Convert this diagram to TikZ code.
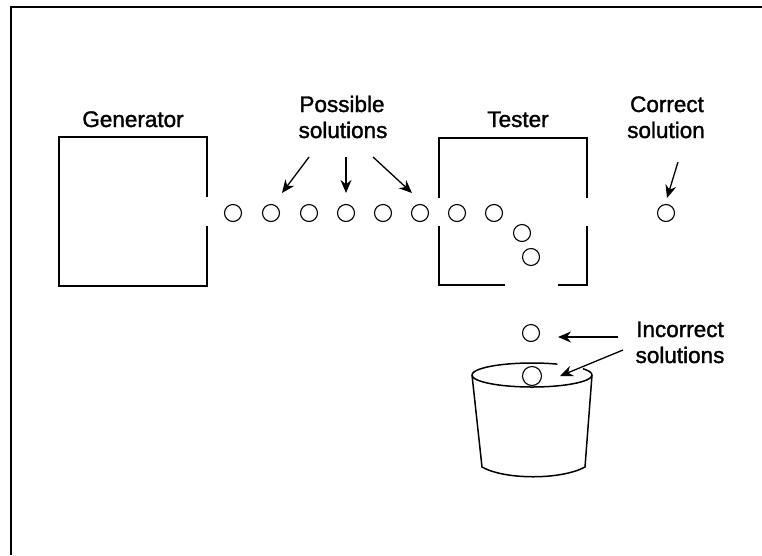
\documentclass[tikz,border=0pt]{standalone}
\usepackage{fontspec}
\setmainfont{Liberation Sans}
\newfontfamily\lblfont[RawFeature={embolden=1.5}]{Liberation Sans}
\usetikzlibrary{arrows.meta}

\tikzset{
  ball/.style={circle, draw, fill=white, line width=1.1pt, minimum size=17pt, inner sep=0pt},
  boxline/.style={line width=1.5pt},
  pointer/.style={line width=1.3pt, -{Stealth[length=13pt,width=11pt]}},
  label/.style={font=\lblfont\fontsize{22.5}{26}\selectfont, anchor=base, inner sep=0pt},
}

\begin{document}
\begin{tikzpicture}[x=1pt,y=-1pt]
  \useasboundingbox (0,0) rectangle (762,555);

  % frame edges
  \draw[line width=2pt] (10,7) -- (762,7);
  \draw[line width=2pt] (11,6) -- (11,555);

  % generator box, open on the right
  \draw[boxline] (207,197) -- (207,137) -- (59,137) -- (59,286) -- (207,286) -- (207,226);
  \node[label] (gen) at (133,127) {Generator};

  % tester box, open left, right and bottom
  \draw[boxline] (439,198) -- (439,138) -- (587,138) -- (587,198);
  \draw[boxline] (439,226) -- (439,285) -- (505,285);
  \draw[boxline] (558,285) -- (587,285) -- (587,226);
  \node[label] (tester) at (518,127) {Tester};

  % stream of candidate solutions
  \foreach \x [count=\i] in {233,271,309,346,383,420,457,494}
    \node[ball] (b\i) at (\x,213) {};
  \node[ball] (d1) at (522,233) {};
  \node[ball] (d2) at (531,257) {};
  \node[ball] (good) at (666,213) {};
  \node[ball] (bad1) at (531,333) {};

  % bucket
  \draw[boxline] (472,375) -- (482,467)
    .. controls (505,480) and (561,480) .. (585,467) -- (592,375);
  \draw[boxline] (592,375) arc[start angle=0, end angle=180, x radius=60, y radius=12];
  \draw[boxline] (472,375) arc[start angle=180, end angle=295, x radius=60, y radius=12];
  \draw[boxline] (592,375) arc[start angle=360, end angle=328, x radius=60, y radius=12];
  \node[ball, minimum size=19pt] (bad2) at (532,376) {};

  % labels
  \node[label] (ps1) at (342,112) {Possible};
  \node[label] (ps2) at (343,138) {solutions};
  \node[label] (cs1) at (667,112) {Correct};
  \node[label] (cs2) at (666,138) {solution};
  \node[label] (is1) at (680,337) {Incorrect};
  \node[label] (is2) at (680,363) {solutions};

  % pointer arrows
  \coordinate (pa1) at (309,157);  \coordinate (pa1t) at (282,193);
  \coordinate (pa2) at (346,157);  \coordinate (pa2t) at (346,193);
  \coordinate (pa3) at (373,157);  \coordinate (pa3t) at (412,193);
  \coordinate (ca)  at (678,162);  \coordinate (cat)  at (667,198);
  \coordinate (ia1) at (618,337);  \coordinate (ia1t) at (558,337);
  \coordinate (ia2) at (623,350);  \coordinate (ia2t) at (560,376);
  \draw[pointer] (pa1) -- (pa1t);
  \draw[pointer] (pa2) -- (pa2t);
  \draw[pointer] (pa3) -- (pa3t);
  \draw[pointer] (ca) -- (cat);
  \draw[pointer] (ia1) -- (ia1t);
  \draw[pointer] (ia2) -- (ia2t);
\end{tikzpicture}
\end{document}
